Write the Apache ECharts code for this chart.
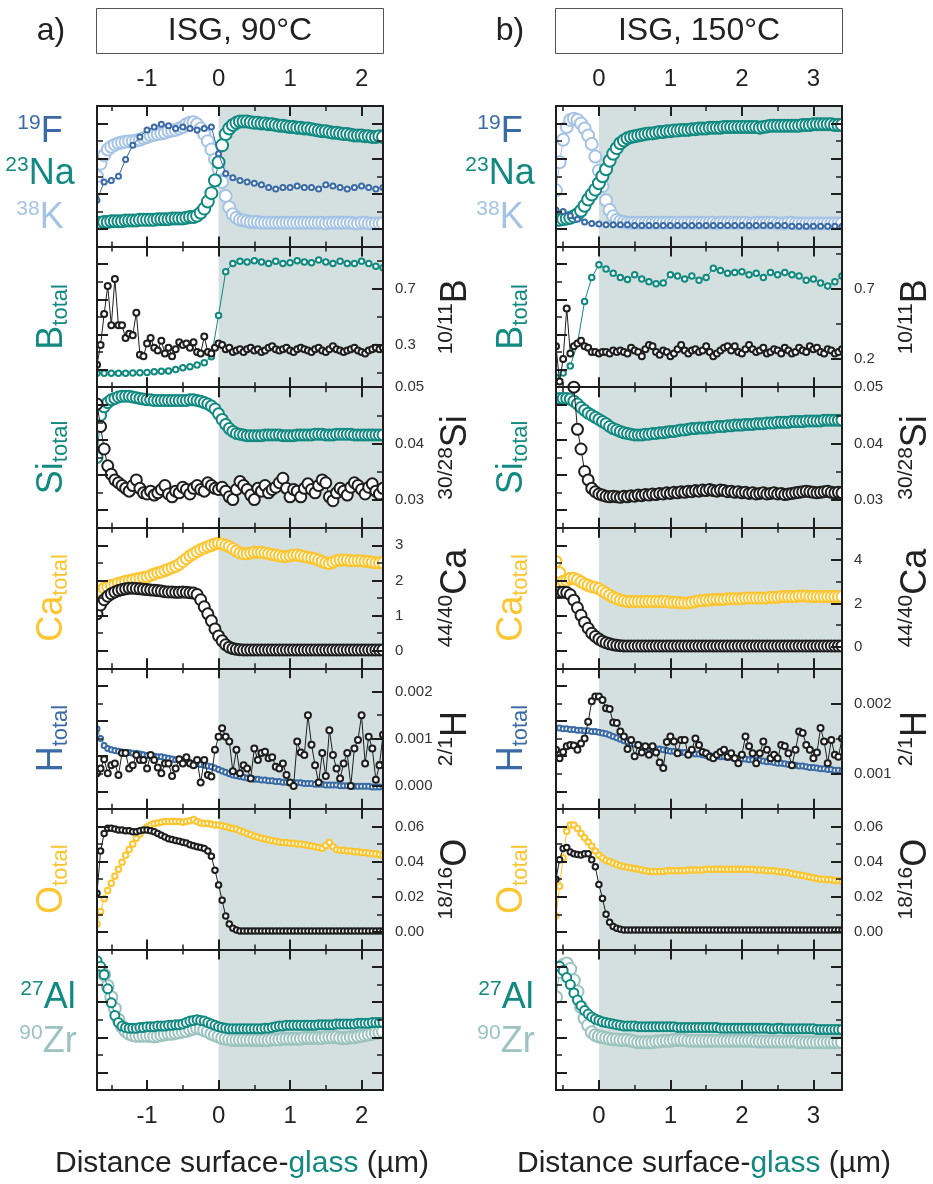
<!DOCTYPE html>
<html><head><meta charset="utf-8">
<script src="https://cdn.jsdelivr.net/npm/echarts@6/dist/echarts.min.js"></script>
<style>html,body{margin:0;padding:0;background:#fff}#c{width:933px;height:1184px}</style>
</head><body><div id="c"></div>
<script>
// ---------- depth positions (µm) ----------
const XA5 = [-1.7,-1.65,-1.6,-1.55,-1.5,-1.45,-1.4,-1.35,-1.3,-1.25,
-1.2,-1.15,-1.1,-1.05,-1,-0.95,-0.9,-0.85,-0.8,-0.75,
-0.7,-0.65,-0.6,-0.55,-0.5,-0.45,-0.4,-0.35,-0.3,-0.25,
-0.2,-0.15,-0.1,-0.05,0,0.05,0.1,0.15,0.2,0.25,
0.3,0.35,0.4,0.45,0.5,0.55,0.6,0.65,0.7,0.75,
0.8,0.85,0.9,0.95,1,1.05,1.1,1.15,1.2,1.25,
1.3,1.35,1.4,1.45,1.5,1.55,1.6,1.65,1.7,1.75,
1.8,1.85,1.9,1.95,2,2.05,2.1,2.15,2.2,2.25,
2.3];
const XA10 = [-1.7,-1.6,-1.5,-1.4,-1.3,-1.2,-1.1,-1,-0.9,-0.8,
-0.7,-0.6,-0.5,-0.4,-0.3,-0.2,-0.1,0,0.1,0.2,
0.3,0.4,0.5,0.6,0.7,0.8,0.9,1,1.1,1.2,
1.3,1.4,1.5,1.6,1.7,1.8,1.9,2,2.1,2.2,
2.3];
const XB5 = [-0.6,-0.55,-0.5,-0.45,-0.4,-0.35,-0.3,-0.25,-0.2,-0.15,
-0.1,-0.05,0,0.05,0.1,0.15,0.2,0.25,0.3,0.35,
0.4,0.45,0.5,0.55,0.6,0.65,0.7,0.75,0.8,0.85,
0.9,0.95,1,1.05,1.1,1.15,1.2,1.25,1.3,1.35,
1.4,1.45,1.5,1.55,1.6,1.65,1.7,1.75,1.8,1.85,
1.9,1.95,2,2.05,2.1,2.15,2.2,2.25,2.3,2.35,
2.4,2.45,2.5,2.55,2.6,2.65,2.7,2.75,2.8,2.85,
2.9,2.95,3,3.05,3.1,3.15,3.2,3.25,3.3,3.35,
3.4];
const XB10 = [-0.6,-0.5,-0.4,-0.3,-0.2,-0.1,0,0.1,0.2,0.3,
0.4,0.5,0.6,0.7,0.8,0.9,1,1.1,1.2,1.3,
1.4,1.5,1.6,1.7,1.8,1.9,2,2.1,2.2,2.3,
2.4,2.5,2.6,2.7,2.8,2.9,3,3.1,3.2,3.3,
3.4];

// ---------- a) ISG 90°C  (totals in relative units 0-100, ratios in axis units) ----------
const a_F = [33,46,47,50,62,72,78,83,85,87,
86,84,85,84,83,84,85,66,52,49,
47,46,45,44,42,41,42,42,43,42,
42,41,44,43,42,41,42,43,42,41,
42];
const a_Na = [17,17,17.5,17.5,18,18,18,18,18.5,18.5,
18.5,18.5,19,19,19,19,19,19.5,19.5,19.5,
19.5,20,20,20,20,20.5,21,21,22,24,
27,32,38,47,60,72,80,84,86.5,88,
89,89,89,88.5,88,88,87.5,87.5,87,87,
86.5,86,86,85.5,85,85,84.5,84.5,84,84,
83.5,83,82.5,82,82,81.5,81,81,80.5,80,
80,79.5,79,79,79,78.5,78.5,78,78,78.5,
78];
const a_K = [50,59,65,69,71,72.5,73.5,74,74.5,75,
75,75.5,76,77,78,79,79.5,80,80.5,81,
82,82.5,83,84,85,87,88,88.5,87,84,
80,75,69,62,55,46,36,28,23,20.5,
19,18.5,18,17.5,17.5,17.5,17,17,17,17,
17,17,17,17,17,17,17,17,17,17,
17,17,17,17,16.5,17,17,17,17,17,
17,17,16.5,16.5,17,17,16.5,16.5,16.5,16.5,
16.5];
const a_Btot = [9.8,9.8,9.8,9.8,9.9,10,10.2,10.5,11,11.3,
11.5,12.5,13.8,14.5,15.7,17.4,21.6,51,82,88,
89.5,89,90,89,88,89.5,88,88.5,90,89,
88.5,90.5,89,88,89.5,88,88,89.5,88,86,
85];
const a_Bratio = [0.16,0.30,0.52,0.72,0.44,0.77,0.44,0.44,0.35,0.38,
0.37,0.53,0.23,0.22,0.31,0.35,0.28,0.26,0.33,0.24,
0.28,0.22,0.27,0.32,0.30,0.31,0.28,0.32,0.25,0.24,
0.36,0.25,0.24,0.28,0.31,0.30,0.27,0.28,0.25,0.26,
0.27,0.25,0.27,0.28,0.26,0.27,0.25,0.26,0.28,0.29,
0.27,0.26,0.27,0.28,0.26,0.25,0.27,0.28,0.27,0.26,
0.25,0.27,0.28,0.26,0.25,0.27,0.29,0.27,0.26,0.25,
0.26,0.27,0.28,0.26,0.25,0.24,0.26,0.27,0.28,0.27,
0.28];
const a_SiTot = [50,80,86,89,91,92,93,93.5,93.5,93.5,
93,92.5,92,91.5,91,91,90.5,90.5,90.5,90.5,
90.5,90.5,90.5,90.5,90.5,90.5,91,91,90.5,90,
89,88,86.5,84.5,81,77,73.5,70.5,68.5,67,
66.5,66,65.5,65.5,65.5,65.5,65.5,66,66,66,
66,66,65.5,65.5,65.5,65.5,66,66,66,66,
66,66.5,66.5,66.5,66,66,66,66.5,66.5,66.5,
66.5,66.5,66,66,66,66,66,66,66,66,
66];
const a_SiRatio = [0.047,0.043,0.039,0.036,0.0345,0.0335,0.033,0.0325,0.032,0.0315,
0.0325,0.0335,0.032,0.0312,0.031,0.0315,0.0308,0.0312,0.0318,0.0325,
0.031,0.0305,0.0315,0.0312,0.0322,0.0318,0.031,0.032,0.0325,0.0318,
0.0315,0.033,0.0325,0.032,0.0318,0.0322,0.0315,0.0305,0.03,0.0318,
0.0332,0.0325,0.0318,0.0308,0.03,0.032,0.0315,0.0325,0.0312,0.0318,
0.0322,0.033,0.0338,0.032,0.0305,0.0318,0.0315,0.0305,0.032,0.0328,
0.0318,0.0312,0.0325,0.0335,0.033,0.0305,0.0298,0.0312,0.032,0.0315,
0.0308,0.0322,0.033,0.0325,0.0318,0.031,0.0322,0.0328,0.0315,0.031,
0.032];
const a_CaTot = [52,55,57,58,59,59.5,60.5,61,62,62.5,
63,63.5,64,64.5,65,66,67,68,68.5,69.5,
70.5,71.5,72.5,74,76,78,80,81.5,83,84.5,
85.5,86.5,87.5,88.5,89,88.5,87.5,86.5,85,83.5,
82,81.5,81.5,82,82.5,82.5,82.5,82,81.5,81,
80.5,80,79.5,79.5,80,80.5,80.5,80,79.5,79,
78.5,78,77,76,75,74.5,75.5,76.5,77,77,
77,76.5,76.5,76.5,76.5,76,76,75.5,75,75,
75];
const a_CaRatio = [1.05,1.3,1.45,1.55,1.62,1.67,1.71,1.74,1.76,1.78,
1.78,1.77,1.76,1.75,1.74,1.73,1.72,1.71,1.70,1.68,
1.67,1.67,1.66,1.66,1.67,1.66,1.65,1.64,1.60,1.45,
1.25,1.05,0.85,0.62,0.42,0.28,0.17,0.1,0.06,0.04,
0.03,0.02,0.02,0.02,0.02,0.02,0.02,0.02,0.02,0.02,
0.02,0.02,0.02,0.02,0.02,0.02,0.02,0.02,0.02,0.02,
0.02,0.02,0.02,0.02,0.02,0.02,0.02,0.02,0.02,0.02,
0.02,0.02,0.02,0.02,0.02,0.02,0.02,0.02,0.02,0.02,
0.02];
const a_HTot = [57,50,45,43,42,41.5,41,40.5,40,40,
39.5,39.5,39,38.5,38,38,37.5,37,37,36.5,
36,35.5,35,34.5,34,33.5,33,32.5,32,31.5,
31,30.5,30,29,28,27,26,25,24,23.5,
23,22.5,22,21.5,21,21,20.5,20.5,20,20,
19.5,19.5,19,19,19,18.5,18.5,18.5,18,18,
18,17.5,17.5,17.5,17,17,17,17,16.5,16.5,
16.5,16.5,16,16,16,16,16,15.5,15.5,15.5,
15.5];
const a_HRatio = [0.00026,0.00036,0.00056,0.00026,0.00043,0.00047,0.00022,0.00069,0.00069,0.00036,
0.00043,0.00065,0.00054,0.00054,0.00036,0.00065,0.00054,0.00038,0.00026,0.00047,
0.00047,0.0002,0.00036,0.00056,0.00047,0.0006,0.00047,0.00043,0.00054,0.00006,
0.00054,0.00022,0.00019,0.00076,0.00104,0.00122,0.00104,0.00094,0.0003,0.00076,
0.00026,0.00043,0.00036,0.00015,0.00079,0.00054,0.00069,0.00072,0.00058,0.0006,
0.0004,0.00036,0.00047,0.00022,0.00006,-0.00001,0.00094,0.0007,0.00065,0.0015,
0.00087,0.00043,0.00006,0.00069,0.0002,0.00118,0.00065,0.00036,0.00015,0.00047,
0.00069,-0.00001,0.00079,0.00097,0.0015,0.00047,0.00104,0.00079,0.00012,0.00043,
0.00108];
const a_OTot = [18,27,36,42,47,52,57,62,67,71,
75,79,82,85,87,88.5,89.5,90,90.5,91,
91,91,91,91,90.5,91,91.5,92.5,91,90,
89.5,89.5,89,88.5,88.5,88,87.5,86.5,86,85.5,
84.5,83.5,82.5,81.5,80.5,80,79,78.5,78,77.5,
77,76.5,76,76,75.5,75.5,75,75,74.5,74,
73.5,73,72.5,72,74,76,73,71,70.5,70.5,
70,70,69.5,69.5,69,69,68.5,68,68,67.5,
67];
const a_ORatio = [0.022,0.046,0.056,0.059,0.059,0.0585,0.058,0.058,0.0575,0.0575,
0.057,0.057,0.0575,0.058,0.058,0.0575,0.057,0.056,0.055,0.054,
0.053,0.0525,0.052,0.0515,0.051,0.0505,0.0495,0.049,0.0485,0.048,
0.0475,0.046,0.043,0.035,0.0266,0.018,0.009,0.0045,0.002,0.001,
0.0005,0.0005,0.0005,0.0005,0.0005,0.0005,0.0005,0.0005,0.0005,0.0005,
0.0005,0.0005,0.0005,0.0005,0.0005,0.0005,0.0005,0.0005,0.0005,0.0005,
0.0005,0.0005,0.0005,0.0005,0.0005,0.0005,0.0005,0.0005,0.0005,0.0005,
0.0005,0.0005,0.0005,0.0005,0.0005,0.0005,0.0005,0.0005,0.0005,0.0005,
0.0005];
const a_Al = [92,88,82,72,62,53,48,45.5,44.5,44,
44,44,44.5,44.5,45,45,45,45.5,45.5,45.5,
46,46,46.5,46.5,47,48,49,49.5,50,49.5,
49,48,47,46,45,44.5,44,43.5,43.5,43.5,
43.5,43.5,43.5,43.5,43.5,43.5,43.5,44,44,44.5,
45,45.5,45.5,46,46,46,46,46,46,46,
46,46,46.5,46.5,46.5,46.5,46.5,47,47,47,
47,47,47,47.5,47.5,47.5,47.5,48,48,48,
48];
const a_Zr = [88,86,82,74,66,58,50,45,42,40,
39,38.5,38.5,38.5,38.5,38.5,38,38.5,39,39.5,
40,40,40.5,41,41.5,42,43,43.5,44,43.5,
42.5,41.5,40,39,38,37,36.5,36,35.5,35.5,
35.5,35.5,35.5,35.5,35.5,35.5,35.5,35.5,35.5,36,
36,36,36.5,36.5,36.5,36.5,36.5,36.5,37,37,
37,37,37,37,37.5,37.5,37.5,37.5,37,37,
37,37.5,37.5,38,38.5,39,39.5,40,40.5,41,
41.5];

// ---------- b) ISG 150°C ----------
const b_F = [26,25,22,19.5,17.5,16.5,16,15.5,15.5,15.5,
15.5,15,15,15,15,15,15,15,15,15,
15,15,15,15,15,15,15,15,15,15,
15,15,15,14.5,14.5,14.5,14.5,14.5,14.5,14.5,
14.5];
const b_Na = [19,19,19.5,20,20.5,21.5,23,25.5,29,33.5,
37,40.5,45,50,55,61,66,70,73.5,75.5,
77,78,78.5,79,79.5,80,80.5,80.5,81,81.5,
81.5,82,82,82.5,82.5,83,83,83,83.5,83.5,
84,84,84,84.5,84.5,84.5,84.5,85,85,85,
85,85,85,85,85,85,85,84.5,85,85.5,
86,86,86,86,86,86,86,86,86,86.5,
86.5,86.5,87,87,87,87,87,87,86.5,86.5,
86.5];
const b_K = [40,60,76,85,90,91,90,87.5,84,79,
73,64,54,43,33,26,21.5,19,18,17.5,
17,17,17,17,17,17,17,17,17,17,
17,17,17,17,17,17,17,17,17,17,
17,17,17,17,17,16.5,17,17,17,17,
17,17,17,17,16.5,16.5,17,17,17,17,
17,17,16.5,16.5,16.5,17,17,16.5,16.5,16.5,
16.5,16.5,16.5,16.5,16.5,16.5,16.5,16.5,16.5,16.5,
16.5];
const b_Btot = [7,10,15,31,61,78,87,84,81,78,
76.5,80,77,75,73.5,74,80,79,77,79,
76,78,84.5,83,81,81.5,82,80,81,78,
81.5,80,81.5,80,79,76,77,74,72,75,
79];
const b_Bratio = [0.29,0.04,0.20,0.56,0.24,0.29,0.31,0.33,0.29,0.28,
0.25,0.25,0.24,0.25,0.25,0.24,0.26,0.25,0.26,0.25,
0.24,0.28,0.26,0.25,0.22,0.27,0.30,0.29,0.25,0.23,
0.26,0.25,0.22,0.24,0.27,0.30,0.26,0.24,0.26,0.27,
0.25,0.26,0.29,0.25,0.22,0.24,0.26,0.28,0.29,0.26,
0.29,0.25,0.24,0.27,0.30,0.27,0.25,0.26,0.28,0.24,
0.25,0.27,0.26,0.24,0.28,0.26,0.24,0.25,0.28,0.26,
0.25,0.29,0.27,0.28,0.25,0.24,0.27,0.26,0.24,0.25,
0.27];
const b_SiTot = [91.5,92,92,92,91.5,90,88,85.5,83.5,81.5,
80,78.5,77,75.5,74,72,70.5,69.5,68.5,67.5,
67,66.5,66,66,66,66.5,66.5,67,67,67.5,
67.5,68,68.5,68.5,69,69.5,69.5,70,70.5,70.5,
71,71,71,71.5,71.5,72,72,72,72.5,72.5,
73,73,73,73.5,73.5,73.5,74,74,74,74.5,
74.5,74.5,75,75,75,75,75.5,75.5,75.5,75.5,
76,76,76,76,76,76.5,76.5,76.5,76.5,76.5,
76.5];
const b_SiRatio = [0.060,0.060,0.059,0.058,0.056,0.050,0.0425,0.039,0.035,0.0335,
0.032,0.0314,0.031,0.0308,0.0306,0.0305,0.0306,0.0305,0.0304,0.0306,
0.0305,0.0307,0.0306,0.0308,0.0307,0.0309,0.0308,0.031,0.0309,0.0311,
0.031,0.0312,0.0311,0.0313,0.0312,0.0314,0.0313,0.0315,0.0314,0.0316,
0.0315,0.0317,0.0316,0.0318,0.0316,0.0315,0.0317,0.0316,0.0314,0.0315,
0.0313,0.0314,0.0312,0.0313,0.0311,0.0312,0.031,0.0311,0.0312,0.031,
0.0311,0.0312,0.031,0.0311,0.0309,0.031,0.0311,0.0312,0.0313,0.0314,
0.0315,0.0314,0.0313,0.0312,0.0313,0.0314,0.0315,0.0313,0.0312,0.0313,
0.0312];
const b_CaTot = [76,68,62,62.5,64,64,63,61.5,60,59,
58,57.5,56.5,55,53.5,52,50.5,49.5,48.5,48,
47.5,47.5,47.5,47.5,47.5,47.5,47.5,47.5,47.5,47.5,
47.5,47.5,47,47,47,46.5,46.5,46.5,47,47.5,
48,48,48.5,48.5,49,49,49,49,49.5,49.5,
49.5,49.5,49.5,50,50,50,50,50,50,50,
50.5,50.5,50.5,51,51,51,51,51,51.5,51.5,
51.5,51,51,51,51,51,51,51,51,51,
51];
const b_CaRatio = [2.5,2.52,2.52,2.5,2.4,2.15,1.8,1.45,1.12,0.85,
0.62,0.47,0.35,0.25,0.18,0.13,0.09,0.06,0.045,0.035,
0.03,0.03,0.03,0.03,0.03,0.03,0.03,0.03,0.03,0.03,
0.03,0.03,0.03,0.03,0.03,0.03,0.03,0.03,0.03,0.03,
0.03,0.03,0.03,0.03,0.03,0.03,0.03,0.03,0.03,0.03,
0.03,0.03,0.03,0.03,0.03,0.03,0.03,0.03,0.03,0.03,
0.03,0.03,0.03,0.03,0.03,0.03,0.03,0.03,0.03,0.03,
0.03,0.03,0.03,0.03,0.03,0.03,0.03,0.03,0.03,0.03,
0.03];
const b_HTot = [57.5,57.5,57,57,56.5,56.5,56,56,55.5,55.5,
55,55,54.5,54,53.5,52.5,51.5,50.5,49.5,48.5,
47.5,46.5,46,45,44.5,44,43.5,43,42.5,42.5,
42,41.5,41,41,40.5,40,40,39.5,39.5,39,
39,38.5,38,38,37.5,37.5,37,37,36.5,36.5,
36,36,35.5,35.5,35,35,34.5,34.5,34,33.5,
33.5,33,32.5,32.5,32,31.5,31.5,31,30.5,30.5,
30,29.5,29.5,29,28.5,28.5,28,28,27.5,27.5,
27];
const b_HRatio = [0.00134,0.00122,0.00131,0.00139,0.00141,0.0014,0.00134,0.00143,0.0015,0.00174,
0.00203,0.0021,0.0021,0.00205,0.00193,0.00192,0.00173,0.00172,0.0016,0.00153,
0.00135,0.00148,0.00125,0.00141,0.0013,0.00139,0.00127,0.00139,0.0013,0.00116,
0.00108,0.00145,0.00153,0.00146,0.00129,0.00148,0.00148,0.00127,0.00134,0.0015,
0.00141,0.00131,0.00129,0.00124,0.00122,0.00127,0.00131,0.00134,0.00124,0.00129,
0.00122,0.00115,0.00127,0.00153,0.00139,0.00129,0.00115,0.00129,0.00146,0.00134,
0.00122,0.00127,0.00122,0.00141,0.00139,0.00129,0.00112,0.00134,0.0016,0.00158,
0.00141,0.00134,0.00122,0.0013,0.00165,0.00146,0.00115,0.00148,0.00127,0.00124,
0.0015];
const b_OTot = [24,45,65,84,88.5,88.5,86,82.5,79.5,76.5,
73.5,70,67,65,63.5,62.5,61.5,60.5,59.5,59,
58.5,58,57.5,57,56.5,56,55.5,55.5,55.5,55.5,
55.5,56,56,56,56,56,56,56.5,56.5,56.5,
56.5,56.5,57,57,57,57,57,57,57,57,
57,57,57,57,57,57,56.5,56.5,56.5,56,
56,56,55.5,55,55,54.5,54,53.5,53,52.5,
52,51.5,51,50.5,50,50,49.5,49.5,49,49,
48.5];
const b_ORatio = [0.030,0.041,0.0475,0.048,0.0455,0.0445,0.044,0.0438,0.0445,0.0445,
0.041,0.037,0.027,0.019,0.010,0.0055,0.003,0.002,0.0015,0.001,
0.001,0.001,0.001,0.001,0.001,0.001,0.001,0.001,0.001,0.001,
0.001,0.001,0.001,0.001,0.001,0.001,0.001,0.001,0.001,0.001,
0.001,0.001,0.001,0.001,0.001,0.001,0.001,0.001,0.001,0.001,
0.001,0.001,0.001,0.001,0.001,0.001,0.001,0.001,0.001,0.001,
0.001,0.001,0.001,0.001,0.001,0.001,0.001,0.001,0.001,0.001,
0.001,0.001,0.001,0.001,0.001,0.001,0.001,0.001,0.001,0.001,
0.001];
const b_Al = [88,88,85,80,75,69,64,60,56.5,54,
52,50.5,49.5,48.5,48,47.5,47,46.5,46,45.5,
45.5,45.5,45.5,45,45,45,45,45,45,45,
45,45,45,45,44.5,44.5,44.5,44.5,44.5,44.5,
44.5,44.5,44.5,44.5,44.5,44.5,44,44,44,44,
44,44,44,44,44,44,44,44,44,44,
43.5,43.5,44,44,43.5,43.5,43.5,43.5,43.5,43.5,
43.5,43.5,43.5,43,43,43,43,43,43,43,
43];
const b_Zr = [66,84,89,90,86,78,70,59,51,46,
41,39,38,37.5,37,36.5,36,36,35.5,35.5,
35.5,35,34.5,34,34,34,34,34,34.5,34.5,
35,35,35,35.5,35.5,35.5,35.5,35,35,35,
35,35,35,35,35,35,35,35,35,35,
35,35,35,35,35,35,34.5,34.5,34.5,34.5,
34.5,34.5,34.5,34.5,34.5,34.5,34.5,34.5,34,34,
34,34,34,34,34,34,34,34,34,34,
34];

// ---------- layout / style ----------
const FONT = '"Liberation Sans", Arial, Helvetica, sans-serif';
const COL = {teal:'#128a81', blue:'#3a6ba6', lblue:'#a5c3e5', gold:'#fdc530', zr:'#9cc3bf', black:'#1e1e1e', shade:'#d3e0df', axis:'#1e1e1e'};
const SURFACE = 0;
const PANEL_TOP = 106, PANEL_H = 140.57, PLOT_W = 286;

const DATA_A = {F:a_F, Na:a_Na, K:a_K, Btot:a_Btot, Bratio:a_Bratio, SiTot:a_SiTot, SiRatio:a_SiRatio,
  CaTot:a_CaTot, CaRatio:a_CaRatio, HTot:a_HTot, HRatio:a_HRatio, OTot:a_OTot, ORatio:a_ORatio, Al:a_Al, Zr:a_Zr};
const DATA_B = {F:b_F, Na:b_Na, K:b_K, Btot:b_Btot, Bratio:b_Bratio, SiTot:b_SiTot, SiRatio:b_SiRatio,
  CaTot:b_CaTot, CaRatio:b_CaRatio, HTot:b_HTot, HRatio:b_HRatio, OTot:b_OTot, ORatio:b_ORatio, Al:b_Al, Zr:b_Zr};

// [key, x-grid, colour, symbolSize, onRatioAxis]
const PANELS = [
  [['K','x5','lblue',12,false],['Na','x5','teal',12,false],['F','x10','blue',5,false]],
  [['Btot','x10','teal',5.5,false],['Bratio','x5','black',6,true]],
  [['SiTot','x5','teal',11,false],['SiRatio','x5','black',11,true]],
  [['CaTot','x5','gold',11,false],['CaRatio','x5','black',11,true]],
  [['HTot','x5','blue',5,false],['HRatio','x5','black',6,true]],
  [['OTot','x5','gold',5.5,false],['ORatio','x5','black',5.5,true]],
  [['Zr','x5','zr',12,false],['Al','x5','teal',9,false]]
];
const RATIO_A = [null,
  {min:0,max:1,major:[0.3,0.7],minor:[0.1,0.5,0.9],dec:1},
  {min:0.025,max:0.05,major:[0.03,0.04,0.05],minor:[0.035,0.045],dec:2},
  {min:-0.5,max:3.5,major:[0,1,2,3],minor:[0.5,1.5,2.5],dec:0},
  {min:-0.0005,max:0.0025,major:[0,0.001,0.002],minor:[0.0005,0.0015],dec:3},
  {min:-0.01,max:0.07,major:[0,0.02,0.04,0.06],minor:[0.01,0.03,0.05],dec:2},
  null];
const RATIO_B = [null,
  {min:0,max:1,major:[0.2,0.7],minor:[0.45,0.95],dec:1},
  {min:0.025,max:0.05,major:[0.03,0.04,0.05],minor:[0.035,0.045],dec:2},
  {min:-1,max:5.5,major:[0,2,4],minor:[1,3,5],dec:0},
  {min:0.0005,max:0.0025,major:[0.001,0.002],minor:[0.0015],dec:3},
  {min:-0.01,max:0.07,major:[0,0.02,0.04,0.06],minor:[0.01,0.03,0.05],dec:2},
  null];
const TOTAL_LABELS = [null,['B','teal'],['Si','teal'],['Ca','gold'],['H','blue'],['O','gold'],null];
const RATIO_TITLES = [null,['10/11','B'],['30/28','Si'],['44/40','Ca'],['2/1','H'],['18/16','O'],null];

const COLUMNS = [
  {left:97, min:-1.7, max:2.3, ints:[-1,0,1,2], halves:[-1.5,-0.5,0.5,1.5], x5:XA5, x10:XA10, data:DATA_A, ratio:RATIO_A,
   letter:'a)', title:'ISG, 90°C', letterX:51, labX:52, rtX:456, elemX:40, alX:48, axTitleX:242},
  {left:556, min:-0.6, max:3.4, ints:[0,1,2,3], halves:[-0.5,0.5,1.5,2.5], x5:XB5, x10:XB10, data:DATA_B, ratio:RATIO_B,
   letter:'b)', title:'ISG, 150°C', letterX:510, labX:512, rtX:916, elemX:500, alX:506, axTitleX:704}
];

function pairs(xs, ys){ const n=Math.min(xs.length, ys.length), out=[]; for(let i=0;i<n;i++) out.push([xs[i], ys[i]]); return out; }

const grid=[], xAxis=[], yAxis=[], series=[], graphic=[];

function xAx(g, col, pos, values, len, showLabel, line, w){
  return {type:'value', gridIndex:g, position:pos, min:col.min, max:col.max, z:6,
    axisLine:{show:line, onZero:false, lineStyle:{color:COL.axis, width:2}},
    axisTick:{show:true, inside:true, length:len, customValues:values, lineStyle:{color:COL.axis, width:w}},
    axisLabel:{show:showLabel, customValues:values, margin: pos==='top'?15:14, color:'#222', fontSize:24, fontFamily:FONT, formatter:v=>String(v)},
    splitLine:{show:false}, minorTick:{show:false}};
}
function yAx(g, pos, min, max, values, len, line, labels, dec){
  return {type:'value', gridIndex:g, position:pos, min:min, max:max, z:6,
    axisLine:{show:line, onZero:false, lineStyle:{color:COL.axis, width:2}},
    axisTick:{show:true, inside:true, length:len, customValues:values, lineStyle:{color:COL.axis, width:len>8?2:1.5}},
    axisLabel:{show:!!labels, customValues:labels||values, margin:12, color:'#333', fontSize:15, fontFamily:FONT,
      formatter:v=>Number(v).toFixed(dec||0)},
    splitLine:{show:false}, minorTick:{show:false}};
}

COLUMNS.forEach((col, ci) => {
  for (let p=0; p<7; p++){
    const g = ci*7+p;
    const top = PANEL_TOP + p*PANEL_H;
    grid.push({left:col.left, top:top, width:PLOT_W, height:PANEL_H, containLabel:false, show:false});
    xAxis.push(xAx(g,col,'bottom',col.ints,10,p===6,true,2));
    xAxis.push(xAx(g,col,'top',col.ints,10,p===0,true,2));
    xAxis.push(xAx(g,col,'bottom',col.halves,5,false,false,1.5));
    xAxis.push(xAx(g,col,'top',col.halves,5,false,false,1.5));
    yAxis.push(yAx(g,'left',0,100,[12.5,37.5,62.5,87.5],11,true,null));
    yAxis.push(yAx(g,'left',0,100,[25,50,75],6,false,null));
    const r = col.ratio[p];
    if (r){
      yAxis.push(yAx(g,'right',r.min,r.max,r.major,11,true,r.major,r.dec));
      yAxis.push(yAx(g,'right',r.min,r.max,r.minor,6,false,null));
    } else {
      yAxis.push(yAx(g,'right',0,100,[12.5,37.5,62.5,87.5],11,true,null));
      yAxis.push(yAx(g,'right',0,100,[25,50,75],6,false,null));
    }
    // glass region shading
    series.push({type:'line', xAxisIndex:g*4, yAxisIndex:g*4, data:[], silent:true, z:1, symbol:'none',
      markArea:{silent:true, itemStyle:{color:COL.shade}, data:[[{xAxis:SURFACE},{xAxis:col.max}]]}});
    PANELS[p].forEach((s, k) => {
      const [key, xg, c, size, onRatio] = s;
      series.push({type:'line', xAxisIndex:g*4, yAxisIndex: onRatio ? g*4+2 : g*4,
        data: pairs(col[xg], col.data[key]), symbol:'emptyCircle', symbolSize:size, showSymbol:true, showAllSymbol:true,
        lineStyle:{color:COL[c], width:1}, itemStyle:{color:COL[c], borderColor:COL[c], borderWidth:1},
        z:3+k, silent:true, clip:true, emphasis:{disabled:true}});
    });
    const tl = TOTAL_LABELS[p];
    if (tl){
      graphic.push({type:'text', x:col.labX, y:top+PANEL_H/2, rotation:Math.PI/2, silent:true, z:10,
        style:{text:'{b|'+tl[0]+'}{s|total}', align:'center', verticalAlign:'middle',
          rich:{b:{fontSize:36, fontFamily:FONT, fill:COL[tl[1]], lineHeight:40},
                s:{fontSize:22, fontFamily:FONT, fill:COL[tl[1]], verticalAlign:'bottom'}}}});
    }
    const rt = RATIO_TITLES[p];
    if (rt){
      graphic.push({type:'text', x:col.rtX, y:top+PANEL_H/2, rotation:Math.PI/2, silent:true, z:10,
        style:{text:'{s|'+rt[0]+'}{b|'+rt[1]+'}', align:'center', verticalAlign:'middle',
          rich:{b:{fontSize:36, fontFamily:FONT, fill:'#222', lineHeight:40},
                s:{fontSize:21, fontFamily:FONT, fill:'#222', verticalAlign:'top'}}}});
    }
  }
  // white masks so markers are cut at the plot frame (as in the original)
  const L = col.left, R = col.left + PLOT_W, B = PANEL_TOP + 7*PANEL_H;
  [[L-14, PANEL_TOP-13, 13, 7*PANEL_H+27], [R+1, PANEL_TOP-13, 11, 7*PANEL_H+27],
   [L-14, PANEL_TOP-13, PLOT_W+27, 12], [L-14, B+1, PLOT_W+27, 12]].forEach(m => {
    graphic.push({type:'rect', silent:true, z:5.5, shape:{x:m[0], y:m[1], width:m[2], height:m[3]},
      style:{fill:'#ffffff', stroke:null}});
  });
  [['19','F','blue',132],['23','Na','teal',174],['38','K','lblue',218]].forEach(e => {
    graphic.push({type:'text', x:col.elemX, y:e[3], silent:true, z:10,
      style:{text:'{s|'+e[0]+'}{b|'+e[1]+'}', align:'center', verticalAlign:'middle',
        rich:{b:{fontSize:36, fontFamily:FONT, fill:COL[e[2]], lineHeight:38},
              s:{fontSize:21, fontFamily:FONT, fill:COL[e[2]], verticalAlign:'top'}}}});
  });
  [['27','Al','teal',998],['90','Zr','zr',1042]].forEach(e => {
    graphic.push({type:'text', x:col.alX, y:e[3], silent:true, z:10,
      style:{text:'{s|'+e[0]+'}{b|'+e[1]+'}', align:'center', verticalAlign:'middle',
        rich:{b:{fontSize:36, fontFamily:FONT, fill:COL[e[2]], lineHeight:38},
              s:{fontSize:21, fontFamily:FONT, fill:COL[e[2]], verticalAlign:'top'}}}});
  });
  graphic.push({type:'rect', silent:true, z:10, shape:{x:col.left-0.5, y:8.5, width:PLOT_W+1, height:45},
    style:{fill:'#fff', stroke:'#555', lineWidth:1}});
  graphic.push({type:'text', silent:true, z:11, x:col.left+PLOT_W/2, y:31,
    style:{text:col.title, align:'center', verticalAlign:'middle', fontSize:32, fontFamily:FONT, fill:'#222'}});
  graphic.push({type:'text', silent:true, z:10, x:col.letterX, y:31,
    style:{text:col.letter, align:'center', verticalAlign:'middle', fontSize:32, fontFamily:FONT, fill:'#222'}});
  graphic.push({type:'text', silent:true, z:10, x:col.axTitleX, y:1164,
    style:{text:'{n|Distance surface-}{g|glass}{n| (µm)}', align:'center', verticalAlign:'middle',
      rich:{n:{fontSize:30, fontFamily:FONT, fill:'#222'}, g:{fontSize:30, fontFamily:FONT, fill:COL.teal}}}});
});

const chart = echarts.init(document.getElementById('c'), null, {renderer:'canvas'});
chart.setOption({animation:false, backgroundColor:'#fff', grid, xAxis, yAxis, series, graphic});
</script>
</body></html>
